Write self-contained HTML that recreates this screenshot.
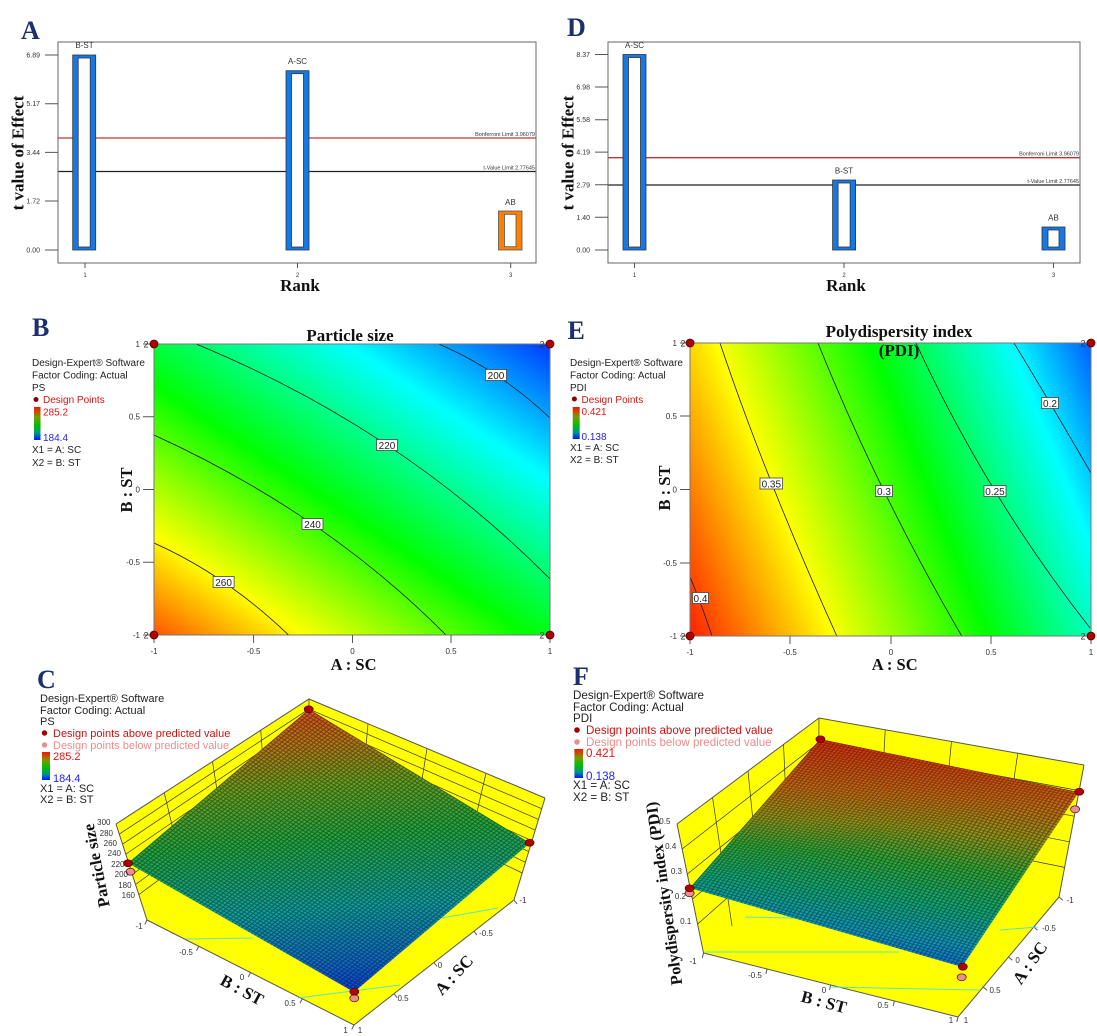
<!DOCTYPE html>
<html><head><meta charset="utf-8">
<style>html,body{margin:0;padding:0;background:#fff;}svg{display:block}</style>
</head>
<body>
<svg xmlns="http://www.w3.org/2000/svg" width="1097" height="1036" viewBox="0 0 1097 1036">
<defs>
  <linearGradient id="gB" gradientUnits="userSpaceOnUse" x1="194.3" y1="725.7" x2="496.4" y2="274.1">
    <stop offset="0" stop-color="#ff0000"/><stop offset="0.022" stop-color="#ff0000"/>
    <stop offset="0.25" stop-color="#ffff00"/><stop offset="0.481" stop-color="#00ff00"/>
    <stop offset="0.74" stop-color="#00ffff"/><stop offset="1" stop-color="#0008ff"/>
  </linearGradient>
  <linearGradient id="gE" gradientUnits="userSpaceOnUse" x1="649.6" y1="585" x2="1172.2" y2="376.3">
    <stop offset="0" stop-color="#ff0000"/><stop offset="0.268" stop-color="#ffff00"/>
    <stop offset="0.524" stop-color="#00ff00"/><stop offset="0.755" stop-color="#00ffff"/>
    <stop offset="0.965" stop-color="#0000ff"/><stop offset="1" stop-color="#0000ff"/>
  </linearGradient>
  <linearGradient id="gC" gradientUnits="userSpaceOnUse" x1="0" y1="0" x2="666" y2="731">
    <stop offset="0" stop-color="#d8501a"/><stop offset="0.12" stop-color="#b87818"/>
    <stop offset="0.26" stop-color="#6aa020"/><stop offset="0.45" stop-color="#22a840"/>
    <stop offset="0.7" stop-color="#10a0a0"/><stop offset="0.9" stop-color="#1068c8"/>
    <stop offset="1" stop-color="#0a40d8"/>
  </linearGradient>
  <linearGradient id="gF" gradientUnits="userSpaceOnUse" x1="0" y1="0" x2="855.2" y2="187.9">
    <stop offset="0" stop-color="#d83010"/><stop offset="0.24" stop-color="#c86a14"/>
    <stop offset="0.4" stop-color="#94961a"/><stop offset="0.55" stop-color="#30a838"/>
    <stop offset="0.72" stop-color="#10a878"/><stop offset="0.86" stop-color="#1098b8"/>
    <stop offset="1" stop-color="#1060d8"/>
  </linearGradient>
  <linearGradient id="cbar" x1="0" y1="0" x2="0" y2="1">
    <stop offset="0" stop-color="#ff1000"/><stop offset="0.3" stop-color="#7a9a00"/>
    <stop offset="0.55" stop-color="#00c000"/><stop offset="0.8" stop-color="#009090"/>
    <stop offset="1" stop-color="#0018ff"/>
  </linearGradient>
  <pattern id="mesh" patternUnits="userSpaceOnUse" width="10" height="10">
    <path d="M0,1.5H10M1.5,0V10" stroke="#000" stroke-width="3" stroke-opacity="0.4" fill="none"/>
  </pattern>
  <clipPath id="clipB"><rect x="154" y="344" width="396" height="291"/></clipPath>
  <clipPath id="clipE"><rect x="690" y="343" width="401" height="293"/></clipPath>
  <clipPath id="clipC"><polygon points="309,709 128,863 354,992 530,843"/></clipPath>
  <clipPath id="clipF"><polygon points="820,739 689.6,888 962,967 1079,792"/></clipPath>
</defs>
<rect width="1097" height="1036" fill="#fff"/>

<!-- ================= PANEL A ================= -->
<g font-family="'Liberation Sans', Arial, sans-serif">
  <text x="21" y="39" font-family="'Liberation Serif', 'Times New Roman', serif" font-weight="bold" font-size="26" fill="#1c2f6e">A</text>
  <line x1="58" y1="138" x2="536" y2="138" stroke="#c83030" stroke-width="1.3"/>
  <line x1="58" y1="171.5" x2="536" y2="171.5" stroke="#222" stroke-width="1.3"/>
  <rect x="58" y="42" width="478" height="221" fill="none" stroke="#666" stroke-width="1"/>
  <path d="M45,55H58M45,103.7H58M45,152.4H58M45,201H58M45,250H58" stroke="#555" stroke-width="1"/>
  <g font-size="7" fill="#333" text-anchor="end">
    <text x="40" y="57.5">6.89</text><text x="40" y="106.2">5.17</text><text x="40" y="154.9">3.44</text>
    <text x="40" y="203.5">1.72</text><text x="40" y="252.5">0.00</text>
  </g>
  <g font-size="5.5" fill="#333" text-anchor="end">
    <text x="535" y="136">Bonferroni Limit 3.96079</text>
    <text x="535" y="169.5">t-Value Limit 2.77645</text>
  </g>
  <rect x="72.7" y="55" width="23" height="195" fill="#1478e6" stroke="#333" stroke-width="0.8"/>
  <rect x="78.2" y="58" width="12" height="189" fill="#fff" stroke="#333" stroke-width="0.8"/>
  <rect x="286" y="70.7" width="23" height="179.3" fill="#1478e6" stroke="#333" stroke-width="0.8"/>
  <rect x="291.5" y="73.7" width="12" height="173.3" fill="#fff" stroke="#333" stroke-width="0.8"/>
  <rect x="498.5" y="211" width="23.5" height="39" fill="#ff8000" stroke="#555" stroke-width="0.8"/>
  <rect x="504.5" y="214.3" width="11.5" height="32.4" fill="#fff" stroke="#555" stroke-width="0.8"/>
  <g font-size="8" fill="#333" text-anchor="middle">
    <text x="84.5" y="48">B-ST</text><text x="297.5" y="64">A-SC</text><text x="510.5" y="205">AB</text>
  </g>
  <path d="M85,263V268M297.5,263V268M510.7,263V268" stroke="#555" stroke-width="1"/>
  <g font-size="6" fill="#333" text-anchor="middle">
    <text x="85" y="277">1</text><text x="297.5" y="277">2</text><text x="510.7" y="277">3</text>
  </g>
  <text x="300" y="291" text-anchor="middle" font-family="'Liberation Serif', 'Times New Roman', serif" font-weight="bold" font-size="17" fill="#111">Rank</text>
  <text transform="translate(23.5,153) rotate(-90)" text-anchor="middle" font-family="'Liberation Serif', 'Times New Roman', serif" font-weight="bold" font-size="17" fill="#111">t value of Effect</text>
</g>

<!-- ================= PANEL D ================= -->
<g font-family="'Liberation Sans', Arial, sans-serif">
  <text x="567" y="36" font-family="'Liberation Serif', 'Times New Roman', serif" font-weight="bold" font-size="26" fill="#1c2f6e">D</text>
  <line x1="608" y1="157.7" x2="1080" y2="157.7" stroke="#c83030" stroke-width="1.3"/>
  <line x1="608" y1="185" x2="1080" y2="185" stroke="#222" stroke-width="1.3"/>
  <rect x="608" y="42" width="472" height="221" fill="none" stroke="#666" stroke-width="1"/>
  <path d="M595,54.5H608M595,87H608M595,119.7H608M595,152.1H608M595,184.8H608M595,217.3H608M595,250H608" stroke="#555" stroke-width="1"/>
  <g font-size="7" fill="#333" text-anchor="end">
    <text x="590" y="57">8.37</text><text x="590" y="89.5">6.98</text><text x="590" y="122.2">5.58</text>
    <text x="590" y="154.6">4.19</text><text x="590" y="187.3">2.79</text><text x="590" y="219.8">1.40</text>
    <text x="590" y="252.5">0.00</text>
  </g>
  <g font-size="5.5" fill="#333" text-anchor="end">
    <text x="1079" y="155.5">Bonferroni Limit 3.96079</text>
    <text x="1079" y="183">t-Value Limit 2.77645</text>
  </g>
  <rect x="623" y="54.5" width="23" height="195.5" fill="#1478e6" stroke="#333" stroke-width="0.8"/>
  <rect x="628.5" y="57.5" width="12" height="189.5" fill="#fff" stroke="#333" stroke-width="0.8"/>
  <rect x="832.6" y="180" width="23" height="70" fill="#1478e6" stroke="#333" stroke-width="0.8"/>
  <rect x="838.1" y="183" width="12" height="64" fill="#fff" stroke="#333" stroke-width="0.8"/>
  <rect x="1042" y="227" width="23" height="23" fill="#1478e6" stroke="#333" stroke-width="0.8"/>
  <rect x="1048" y="230" width="11" height="17" fill="#fff" stroke="#333" stroke-width="0.8"/>
  <g font-size="8" fill="#333" text-anchor="middle">
    <text x="634.5" y="48">A-SC</text><text x="844" y="173.5">B-ST</text><text x="1053.5" y="220.5">AB</text>
  </g>
  <path d="M634.5,263V268M844,263V268M1053.5,263V268" stroke="#555" stroke-width="1"/>
  <g font-size="6" fill="#333" text-anchor="middle">
    <text x="634.5" y="277">1</text><text x="844" y="277">2</text><text x="1053.5" y="277">3</text>
  </g>
  <text x="846" y="291" text-anchor="middle" font-family="'Liberation Serif', 'Times New Roman', serif" font-weight="bold" font-size="17" fill="#111">Rank</text>
  <text transform="translate(573.7,153) rotate(-90)" text-anchor="middle" font-family="'Liberation Serif', 'Times New Roman', serif" font-weight="bold" font-size="17" fill="#111">t value of Effect</text>
</g>

<!-- ================= PANEL B ================= -->
<g font-family="'Liberation Sans', Arial, sans-serif">
  <text x="32" y="336" font-family="'Liberation Serif', 'Times New Roman', serif" font-weight="bold" font-size="26" fill="#1c2f6e">B</text>
  <text x="350" y="341" text-anchor="middle" font-family="'Liberation Serif', 'Times New Roman', serif" font-weight="bold" font-size="17" fill="#111">Particle size</text>
  <g font-size="10" fill="#222">
    <text x="32" y="366">Design-Expert® Software</text>
    <text x="32" y="378.5">Factor Coding: Actual</text>
    <text x="32" y="391">PS</text>
    <circle cx="36" cy="399.5" r="2.5" fill="#8b0000"/>
    <text x="43" y="403" fill="#d01515">Design Points</text>
    <rect x="34" y="407" width="6.5" height="33" fill="url(#cbar)"/>
    <text x="43" y="415.5" fill="#ee1111">285.2</text>
    <text x="43" y="441" fill="#2222ee">184.4</text>
    <text x="32" y="453">X1 = A: SC</text>
    <text x="32" y="466">X2 = B: ST</text>
  </g>
  <rect x="154" y="344" width="396" height="291" fill="url(#gB)"/>
  <g clip-path="url(#clipB)" fill="none" stroke="#1a1a1a" stroke-width="0.8">
    <path d="M438.6,344 Q497.7,369 550,418"/>
    <path d="M196,344 Q401,428.5 550,579"/>
    <path d="M154,435 Q325,513 446,635"/>
    <path d="M154,543 Q225.9,575 288.6,635"/>
  </g>
  <rect x="154" y="344" width="396" height="291" fill="none" stroke="#777" stroke-width="1"/>
  <g font-size="10" fill="#222" text-anchor="middle">
    <rect x="485.5" y="369.5" width="21" height="11" fill="#fff" stroke="#444" stroke-width="0.8"/><text x="496" y="379">200</text>
    <rect x="376.5" y="439.5" width="21" height="11" fill="#fff" stroke="#444" stroke-width="0.8"/><text x="387" y="449">220</text>
    <rect x="302" y="518.5" width="21" height="11" fill="#fff" stroke="#444" stroke-width="0.8"/><text x="312.5" y="528">240</text>
    <rect x="213.1" y="576.5" width="21" height="11" fill="#fff" stroke="#444" stroke-width="0.8"/><text x="223.6" y="586">260</text>
  </g>
  <path d="M143,344H154M143,416.75H154M143,489.5H154M143,562.25H154M143,635H154" stroke="#555" stroke-width="1"/>
  <path d="M154,635V643M253.6,635V643M352.5,635V643M451,635V643M550,635V643" stroke="#555" stroke-width="1"/>
  <g font-size="8" fill="#333" text-anchor="end">
    <text x="140" y="347">1</text><text x="140" y="419.5">0.5</text><text x="140" y="492.5">0</text>
    <text x="140" y="565">-0.5</text><text x="140" y="638">-1</text>
  </g>
  <g font-size="8" fill="#333" text-anchor="middle">
    <text x="154" y="654">-1</text><text x="253.6" y="654">-0.5</text><text x="352.5" y="654">0</text>
    <text x="451" y="654">0.5</text><text x="550" y="654">1</text>
  </g>
  <g font-size="9" fill="#333" text-anchor="middle">
    <text x="146" y="347.5">2</text><text x="146" y="638.5">2</text>
    <text x="542" y="347.5">2</text><text x="542" y="638.5">2</text>
  </g>
  <g fill="#b00000" stroke="#500000" stroke-width="0.8">
    <circle cx="154" cy="344" r="4"/><circle cx="550" cy="344" r="4"/>
    <circle cx="154" cy="635" r="4"/><circle cx="550" cy="635" r="4"/>
  </g>
  <text x="353.6" y="670" text-anchor="middle" font-family="'Liberation Serif', 'Times New Roman', serif" font-weight="bold" font-size="16.5" fill="#111">A : SC</text>
  <text transform="translate(132,490) rotate(-90)" text-anchor="middle" font-family="'Liberation Serif', 'Times New Roman', serif" font-weight="bold" font-size="16.5" fill="#111">B : ST</text>
</g>

<!-- ================= PANEL E ================= -->
<g font-family="'Liberation Sans', Arial, sans-serif">
  <text x="567.5" y="339" font-family="'Liberation Serif', 'Times New Roman', serif" font-weight="bold" font-size="26" fill="#1c2f6e">E</text>
  <g font-size="10" fill="#222">
    <text x="570" y="366">Design-Expert® Software</text>
    <text x="570" y="378.5">Factor Coding: Actual</text>
    <text x="570" y="391">PDI</text>
    <circle cx="574.4" cy="399" r="2.5" fill="#8b0000"/>
    <text x="581.5" y="403" fill="#d01515">Design Points</text>
    <rect x="572.7" y="407" width="7" height="32" fill="url(#cbar)"/>
    <text x="581.5" y="415" fill="#ee1111">0.421</text>
    <text x="581.5" y="440" fill="#2222ee">0.138</text>
    <text x="570" y="451">X1 = A: SC</text>
    <text x="570" y="463">X2 = B: ST</text>
  </g>
  <rect x="690" y="343" width="401" height="293" fill="url(#gE)"/>
  <g clip-path="url(#clipE)" fill="none" stroke="#1a1a1a" stroke-width="0.8">
    <path d="M690,577 Q700,600 712,636"/>
    <path d="M720,343 Q764.8,476.5 836.8,636"/>
    <path d="M818,343 Q878.1,492.5 961.7,636"/>
    <path d="M916,343 Q987,496.5 1090,628"/>
    <path d="M1014,343 Q1047.5,398 1091,473"/>
  </g>
  <rect x="690" y="343" width="401" height="293" fill="none" stroke="#777" stroke-width="1"/>
  <g font-size="10" fill="#222" text-anchor="middle">
    <rect x="692.5" y="592.5" width="16" height="11" fill="#fff" stroke="#444" stroke-width="0.8"/><text x="700.5" y="602">0.4</text>
    <rect x="760" y="478" width="22.6" height="11" fill="#fff" stroke="#444" stroke-width="0.8"/><text x="771.3" y="487.5">0.35</text>
    <rect x="875.5" y="485.5" width="17" height="11" fill="#fff" stroke="#444" stroke-width="0.8"/><text x="884" y="495">0.3</text>
    <rect x="984" y="485.5" width="22" height="11" fill="#fff" stroke="#444" stroke-width="0.8"/><text x="995" y="495">0.25</text>
    <rect x="1041.5" y="397.5" width="17" height="11" fill="#fff" stroke="#444" stroke-width="0.8"/><text x="1050" y="407">0.2</text>
  </g>
  <text x="899" y="337" text-anchor="middle" font-family="'Liberation Serif', 'Times New Roman', serif" font-weight="bold" font-size="17" fill="#111">Polydispersity index</text>
  <text x="899" y="356" text-anchor="middle" font-family="'Liberation Serif', 'Times New Roman', serif" font-weight="bold" font-size="17" fill="#111">(PDI)</text>
  <path d="M680,343H690M680,416H690M680,489.5H690M680,563H690M680,636H690" stroke="#555" stroke-width="1"/>
  <path d="M690,636V644M790,636V644M891,636V644M991,636V644M1091,636V644" stroke="#555" stroke-width="1"/>
  <g font-size="8" fill="#333" text-anchor="end">
    <text x="677" y="346">1</text><text x="677" y="419">0.5</text><text x="677" y="492.5">0</text>
    <text x="677" y="566">-0.5</text><text x="677" y="639">-1</text>
  </g>
  <g font-size="8" fill="#333" text-anchor="middle">
    <text x="690" y="655">-1</text><text x="790" y="655">-0.5</text><text x="891" y="655">0</text>
    <text x="991" y="655">0.5</text><text x="1091" y="655">1</text>
  </g>
  <g font-size="9" fill="#333" text-anchor="middle">
    <text x="683" y="346.5">2</text><text x="683" y="639.5">2</text>
    <text x="1083" y="346.5">2</text><text x="1083" y="639.5">2</text>
  </g>
  <g fill="#b00000" stroke="#500000" stroke-width="0.8">
    <circle cx="690" cy="343" r="4"/><circle cx="1091" cy="343" r="4"/>
    <circle cx="690" cy="636" r="4"/><circle cx="1091" cy="636" r="4"/>
  </g>
  <text x="894.7" y="670" text-anchor="middle" font-family="'Liberation Serif', 'Times New Roman', serif" font-weight="bold" font-size="16.5" fill="#111">A : SC</text>
  <text transform="translate(670,488) rotate(-90)" text-anchor="middle" font-family="'Liberation Serif', 'Times New Roman', serif" font-weight="bold" font-size="16.5" fill="#111">B : ST</text>
</g>

<!-- ================= PANEL C ================= -->
<g font-family="'Liberation Sans', Arial, sans-serif">
  <text x="37" y="688" font-family="'Liberation Serif', 'Times New Roman', serif" font-weight="bold" font-size="26" fill="#1c2f6e">C</text>
  <g font-size="11" fill="#222">
    <text x="40" y="702">Design-Expert® Software</text>
    <text x="40" y="714">Factor Coding: Actual</text>
    <text x="40" y="725">PS</text>
    <circle cx="44.5" cy="733" r="2.7" fill="#a00000"/>
    <text x="53" y="737" fill="#cc1111">Design points above predicted value</text>
    <circle cx="44.5" cy="745" r="2.7" fill="#e09090"/>
    <text x="53" y="749" fill="#ee8c8c">Design points below predicted value</text>
    <rect x="42" y="752" width="8" height="28" fill="url(#cbar)"/>
    <text x="53" y="760" fill="#ee1111">285.2</text>
    <text x="53" y="782" fill="#2222ee">184.4</text>
    <text x="40" y="792">X1 = A: SC</text>
    <text x="40" y="803">X2 = B: ST</text>
  </g>
  <g stroke="none" fill="#ffff00">
    <polygon points="116,824 309,699 308,795 147,920"/>
    <polygon points="309,699 545,798 514,900 308,795"/>
    <polygon points="147,920 308,795 514,900 354,1025"/>
  </g>
  <g stroke="#333" stroke-width="0.7" fill="none">
    <path d="M164.25,792.75L187.25,888.75M212.5,761.5L227.5,857.5M260.75,730.25L267.75,826.25"/>
    <path d="M119.3,834.1L308.9,709.1M122.5,844.2L308.8,719.2M125.8,854.2L308.7,729.2M129,864.3L308.6,739.3M132.3,874.4L308.5,749.4M135.5,884.5L308.4,759.5M138.8,894.6L308.3,769.6"/>
    <path d="M368,723.75L359.5,821.25M427,748.5L411,847.5M486,773.25L462.5,873.75"/>
    <path d="M308.9,709.1L541.7,808.7M308.8,719.2L538.5,819.4M308.7,729.2L535.2,830.1M308.6,739.3L532,840.8M308.5,749.4L528.7,851.6M308.4,759.5L525.5,862.3M308.3,769.6L522.2,873"/>
    <path d="M309,699L308,795"/>
  </g>
  <g stroke="#555" stroke-width="1" fill="none">
    <path d="M116,824L309,699L545,798M116,824L147,920L354,1025L514,900L545,798"/>
    <path d="M198.75,946.25l-2.25,4.45M250.5,972.5l-2.25,4.45M302.25,998.75l-2.25,4.45M147,920l-2.25,4.45M354,1025l-2.25,4.45"/>
    <path d="M474,931.25l3.1,3.95M434,962.5l3.1,3.95M394,993.75l3.1,3.95M514,900l3.1,3.95"/>
  </g>
  <g stroke="#40e0e0" stroke-width="1" fill="none" opacity="0.85">
    <path d="M186,939L253,938M442,918L498,908M298,998L400,985"/>
  </g>
  <g clip-path="url(#clipC)">
    <g transform="matrix(-0.258571,0.22,0.315714,0.191429,309,709)">
      <rect x="0" y="0" width="700" height="700" fill="url(#gC)"/>
      <rect x="0" y="0" width="700" height="700" fill="url(#mesh)"/>
    </g>
    <g transform="matrix(-0.251429,0.212857,0.322857,0.184286,304,714)">
      <polygon points="700,0 700,700 0,700" fill="url(#gC)"/>
      <polygon points="700,0 700,700 0,700" fill="url(#mesh)"/>
    </g>
  </g>
  <g stroke="#500000" stroke-width="0.7">
    <ellipse cx="130.5" cy="871.7" rx="4.5" ry="3.5" fill="#e89090"/>
    <ellipse cx="354.3" cy="998.3" rx="4.5" ry="3.5" fill="#e89090"/>
    <ellipse cx="308.7" cy="709.3" rx="4.5" ry="3.5" fill="#b00000"/>
    <ellipse cx="128" cy="863.3" rx="4.5" ry="3.5" fill="#b00000"/>
    <ellipse cx="529.6" cy="842.7" rx="4.5" ry="3.5" fill="#b00000"/>
    <ellipse cx="354.3" cy="991.7" rx="4.5" ry="3.5" fill="#b00000"/>
  </g>
  <g font-size="8" fill="#333" text-anchor="end">
    <text x="110.5" y="825">300</text><text x="113" y="836">280</text><text x="117" y="846">260</text>
    <text x="121" y="856">240</text><text x="124.5" y="867">220</text><text x="128" y="877">200</text>
    <text x="131.6" y="888">180</text><text x="135" y="898">160</text>
  </g>
  <g font-size="8" fill="#333" text-anchor="middle">
    <text x="139" y="929">-1</text><text x="186" y="955">-0.5</text><text x="242" y="980">0</text>
    <text x="290" y="1006">0.5</text><text x="345.6" y="1033">1</text>
    <text x="523" y="903">-1</text><text x="486" y="936">-0.5</text><text x="440" y="968">0</text>
    <text x="403" y="1001">0.5</text><text x="360" y="1033">1</text>
  </g>
  <text transform="translate(101.7,864.5) rotate(-101)" text-anchor="middle" font-family="'Liberation Serif', 'Times New Roman', serif" font-weight="bold" font-size="16.5" fill="#111">Particle size</text>
  <text transform="translate(239.3,994.9) rotate(28.6)" text-anchor="middle" font-family="'Liberation Serif', 'Times New Roman', serif" font-weight="bold" font-size="17" fill="#111">B : ST</text>
  <text transform="translate(458.1,978.8) rotate(-47)" text-anchor="middle" font-family="'Liberation Serif', 'Times New Roman', serif" font-weight="bold" font-size="17" fill="#111">A : SC</text>
</g>

<!-- ================= PANEL F ================= -->
<g font-family="'Liberation Sans', Arial, sans-serif">
  <text x="573" y="685" font-family="'Liberation Serif', 'Times New Roman', serif" font-weight="bold" font-size="26" fill="#1c2f6e">F</text>
  <g font-size="11.6" fill="#222">
    <text x="573" y="699">Design-Expert® Software</text>
    <text x="573" y="711">Factor Coding: Actual</text>
    <text x="573" y="722">PDI</text>
    <circle cx="577" cy="730" r="2.8" fill="#a00000"/>
    <text x="586" y="734" fill="#cc1111">Design points above predicted value</text>
    <circle cx="577" cy="742" r="2.8" fill="#e09090"/>
    <text x="586" y="746" fill="#ee8c8c">Design points below predicted value</text>
    <rect x="574.4" y="749" width="8.6" height="29" fill="url(#cbar)"/>
    <text x="586" y="757" fill="#ee1111">0.421</text>
    <text x="586" y="780" fill="#2222ee">0.138</text>
    <text x="573" y="789">X1 = A: SC</text>
    <text x="573" y="801">X2 = B: ST</text>
  </g>
  <g stroke="none" fill="#ffff00">
    <polygon points="677,824 819,718 818,846 703.5,953"/>
    <polygon points="819,718 1084,765 1059,897 818,846"/>
    <polygon points="703.5,953 818,846 1059,897 958,1017"/>
  </g>
  <g stroke="#333" stroke-width="0.7" fill="none">
    <path d="M712.5,797.5L732.1,926.25M748,771L760.75,899.5M783.5,744.5L789.4,872.75"/>
    <path d="M682.1,849L818.8,742.8M687.3,874.1L818.6,767.7M692.4,899.1L818.4,792.5M697.6,924.1L818.2,817.3"/>
    <path d="M885.25,729.75L878.25,858.75M951.5,741.5L938.5,871.5M1017.75,753.25L998.75,884.25"/>
    <path d="M818.8,742.8L1079.2,790.6M818.6,767.7L1074.3,816.2M818.4,792.5L1069.5,841.8M818.2,817.3L1064.6,867.4"/>
    <path d="M819,718L818,846"/>
  </g>
  <g stroke="#555" stroke-width="1" fill="none">
    <path d="M677,824L819,718L1084,765M677,824L703.5,953L958,1017L1059,897L1084,765"/>
    <path d="M703.5,953l-1.2,4.85M767.1,969l-1.2,4.85M830.75,985l-1.2,4.85M894.4,1001l-1.2,4.85M958,1017l-1.2,4.85"/>
    <path d="M1059,897l3.8,3.2M1033.75,927l3.8,3.2M1008.5,957l3.8,3.2M983.25,987l3.8,3.2"/>
  </g>
  <g stroke="#40e0e0" stroke-width="1" fill="none" opacity="0.85">
    <path d="M705,952L899,952M745,917L794,918M1000,930L1038,927M829,987L979,990"/>
  </g>
  <g clip-path="url(#clipF)">
    <g transform="matrix(-0.186286,0.212857,0.37,0.075714,820,739)">
      <rect x="0" y="0" width="700" height="700" fill="url(#gF)"/>
      <rect x="0" y="0" width="700" height="700" fill="url(#mesh)"/>
    </g>
    <g transform="matrix(-0.167143,0.25,0.389143,0.112857,806.6,713)">
      <polygon points="700,0 700,700 0,700" fill="url(#gF)"/>
      <polygon points="700,0 700,700 0,700" fill="url(#mesh)"/>
    </g>
  </g>
  <g stroke="#500000" stroke-width="0.7">
    <ellipse cx="689.6" cy="893.3" rx="4.5" ry="3.5" fill="#e89090"/>
    <ellipse cx="1075.1" cy="809.3" rx="4.5" ry="3.5" fill="#e89090"/>
    <ellipse cx="961.7" cy="977.3" rx="4.5" ry="3.5" fill="#e89090"/>
    <ellipse cx="820.4" cy="739.3" rx="4.5" ry="3.5" fill="#b00000"/>
    <ellipse cx="689.6" cy="888.3" rx="4.5" ry="3.5" fill="#b00000"/>
    <ellipse cx="1079.3" cy="791.7" rx="4.5" ry="3.5" fill="#b00000"/>
    <ellipse cx="962.8" cy="966.7" rx="4.5" ry="3.5" fill="#b00000"/>
  </g>
  <g font-size="8" fill="#333" text-anchor="end">
    <text x="670.4" y="824">0.5</text><text x="676.3" y="849">0.4</text><text x="682" y="874">0.3</text>
    <text x="686" y="899">0.2</text><text x="691.3" y="924">0.1</text>
  </g>
  <g font-size="8" fill="#333" text-anchor="middle">
    <text x="693" y="964">-1</text><text x="755" y="978">-0.5</text><text x="824" y="993">0</text>
    <text x="883" y="1008">0.5</text><text x="951" y="1023">1</text>
    <text x="1070" y="903">-1</text><text x="1049" y="931">-0.5</text><text x="1017.6" y="963">0</text>
    <text x="995" y="993">0.5</text><text x="966" y="1023">1</text>
  </g>
  <text transform="translate(669.4,892.7) rotate(-98)" text-anchor="middle" font-family="'Liberation Serif', 'Times New Roman', serif" font-weight="bold" font-size="16.4" fill="#111">Polydispersity index (PDI)</text>
  <text transform="translate(822.5,1007.4) rotate(15)" text-anchor="middle" font-family="'Liberation Serif', 'Times New Roman', serif" font-weight="bold" font-size="17" fill="#111">B : ST</text>
  <text transform="translate(1034.6,966.2) rotate(-55)" text-anchor="middle" font-family="'Liberation Serif', 'Times New Roman', serif" font-weight="bold" font-size="17" fill="#111">A : SC</text>
</g>
</svg>
</body>
</html>
